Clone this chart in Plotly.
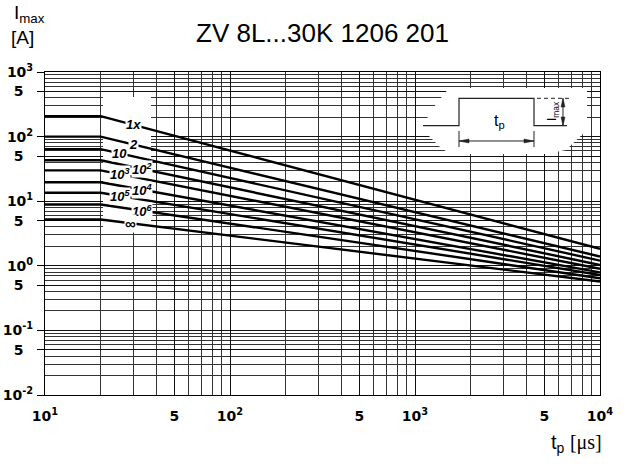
import numpy as np
import plotly.graph_objects as go

# ---------------- data ----------------
t_points = [10, 20, 10000]                      # pulse width t_p [us] : flat part to 20 us, then falling
curve_labels = ["1x", "2", "10", "10<sup>2</sup>", "10<sup>3</sup>", "10<sup>4</sup>",
                "10<sup>5</sup>", "10<sup>6</sup>", "∞"]
i_flat = [207, 100, 64, 43, 30, 19.6, 13.5, 8.9, 5.2]      # I_max [A] for t_p <= 20 us
i_end = [1.83, 1.39, 1.20, 1.03, 0.90, 0.79, 0.72, 0.64, 0.57]  # I_max [A] at t_p = 10^4 us

x_tickvals = [10, 50, 100, 500, 1000, 5000, 10000]
x_ticktext = ["10<sup>1</sup>", "5", "10<sup>2</sup>", "5", "10<sup>3</sup>", "5", "10<sup>4</sup>"]
y_tickvals = [0.01, 0.05, 0.1, 0.5, 1, 5, 10, 50, 100, 500, 1000]
y_ticktext = ["10<sup>-2</sup>", "5", "10<sup>-1</sup>", "5", "10<sup>0</sup>", "5",
              "10<sup>1</sup>", "5", "10<sup>2</sup>", "5", "10<sup>3</sup>"]

# ---------------- layout constants ----------------
W, H = 633, 464
PL, PT, PR, PB = 45, 72, 600, 395        # plot area edges in page pixels
L, T, R, B = PL, PT, W - PR, H - PB
PW, PH = PR - PL, PB - PT
X_RANGE, Y_RANGE = (1, 4), (-2, 3)
LABEL_T = [30, 30, 25.4, 33.4, 25.4, 33.4, 25.4, 33.4, 29]   # where curve labels sit (t_p)


def px(x):
    return (x - PL) / PW


def py(y):
    return (PB - y) / PH


def dx(x):  # page pixel -> data (log axis)
    return 10 ** (X_RANGE[0] + px(x) * (X_RANGE[1] - X_RANGE[0]))


def dy(y):
    return 10 ** (Y_RANGE[0] + py(y) * (Y_RANGE[1] - Y_RANGE[0]))


def path(pts, close=False):
    s = "M " + " L ".join(f"{px(a):.5f},{py(b):.5f}" for a, b in pts)
    return s + (" Z" if close else "")


x_minor = [m * 10 ** k for k in range(1, 4) for m in range(2, 10)]
y_minor = [m * 10.0 ** k for k in range(-2, 3) for m in range(2, 10)]
# "5" labels sit under the "10" of the decade labels, as in the original
y_ticktext_padded = [t if t != "5" else "5&nbsp;&nbsp;" for t in y_ticktext]

fig = go.Figure()

# white masks (drawn above the grid, below the curves)
masks = [
    [(103, 97), (151, 97), (151, 232), (103, 232)],
    [(448, 88), (587, 88), (587, 130), (566, 150), (545, 154), (450, 154),
     (440, 147), (421, 128), (436, 104), (446, 92)],
]
for m in masks:
    pts = m + [m[0]]
    fig.add_trace(go.Scatter(x=[dx(a) for a, b in pts], y=[dy(b) for a, b in pts],
                             mode="lines", fill="toself", fillcolor="white",
                             line=dict(width=0, color="white"), hoverinfo="skip"))

for name, s, e in zip(curve_labels, i_flat, i_end):
    fig.add_trace(go.Scatter(x=t_points, y=[s, s, e], mode="lines", name=name,
                             line=dict(color="black", width=2.4), hoverinfo="skip"))

annotations = []
for name, s, e, lt in zip(curve_labels, i_flat, i_end, LABEL_T):
    lx = np.log10(lt)
    ly = np.interp(lx, [np.log10(t_points[1]), np.log10(t_points[2])], [np.log10(s), np.log10(e)])
    annotations.append(dict(x=lx, y=ly, xref="x", yref="y", text=name, showarrow=False,
                            font=dict(family="Liberation Sans", size=13 if name != "∞" else 15,
                                      color="black", style="italic", weight="bold"),
                            bgcolor="white", borderpad=0))

# axis titles and heading
annotations += [
    dict(x=px(12), y=py(14), xref="paper", yref="paper", xanchor="left", yanchor="middle",
         text="I<sub>max</sub>", showarrow=False, font=dict(family="Liberation Sans", size=19, color="black")),
    dict(x=px(9), y=py(37), xref="paper", yref="paper", xanchor="left", yanchor="middle",
         text="[A]", showarrow=False, font=dict(family="Liberation Sans", size=19, color="black")),
    dict(x=px(322), y=py(33), xref="paper", yref="paper", xanchor="center", yanchor="middle",
         text="ZV 8L...30K 1206 201", showarrow=False,
         font=dict(family="Liberation Sans", size=26, color="black")),
    dict(x=px(604), y=py(443), xref="paper", yref="paper", xanchor="right", yanchor="middle",
         text="t<sub>p</sub> <span style='font-family:Liberation Serif'>[μs]</span>", showarrow=False,
         font=dict(family="Liberation Sans", size=20, color="black")),
    # inset labels
    dict(x=px(499), y=py(121), xref="paper", yref="paper", xanchor="center", yanchor="middle",
         text="t<sub>p</sub>", showarrow=False, font=dict(family="Liberation Sans", size=16, color="black")),
    dict(x=px(553), y=py(111), xref="paper", yref="paper", xanchor="center", yanchor="middle",
         text="I<sub>max</sub>", textangle=-90, showarrow=False,
         font=dict(family="Liberation Sans", size=12, color="black")),
]

ln = dict(color="#222", width=1)
shapes = [
    dict(type="path", xref="paper", yref="paper",
         path=path([(423, 125.7), (459, 125.7), (459, 98.3), (534, 98.3), (534, 125.7), (567, 125.7)]),
         line=dict(color="#222", width=1.2)),
    dict(type="path", xref="paper", yref="paper", path=path([(459, 141), (534, 141)]), line=ln),
    dict(type="path", xref="paper", yref="paper", path=path([(459, 131), (459, 147)]), line=ln),
    dict(type="path", xref="paper", yref="paper", path=path([(534, 131), (534, 147)]), line=ln),
    dict(type="path", xref="paper", yref="paper", path=path([(459, 141), (469, 139), (469, 143)], close=True),
         fillcolor="#222", line=dict(color="#222", width=0.5)),
    dict(type="path", xref="paper", yref="paper", path=path([(534, 141), (524, 139), (524, 143)], close=True),
         fillcolor="#222", line=dict(color="#222", width=0.5)),
    dict(type="path", xref="paper", yref="paper", path=path([(563, 98.3), (563, 125.7)]), line=ln),
    dict(type="path", xref="paper", yref="paper", path=path([(563, 98.3), (561, 107), (565, 107)], close=True),
         fillcolor="#222", line=dict(color="#222", width=0.5)),
    dict(type="path", xref="paper", yref="paper", path=path([(563, 125.7), (561, 117), (565, 117)], close=True),
         fillcolor="#222", line=dict(color="#222", width=0.5)),
    dict(type="path", xref="paper", yref="paper", path=path([(537, 98.3), (569, 98.3)]),
         line=dict(color="#222", width=1, dash="4px,3px")),
]

tickfont = dict(family="DejaVu Sans", size=14, color="black", weight="bold")
fig.update_layout(
    width=W, height=H, margin=dict(l=L, r=R, t=T, b=B, autoexpand=False),
    paper_bgcolor="white", plot_bgcolor="white", showlegend=False,
    annotations=annotations, shapes=shapes,
    xaxis=dict(type="log", range=list(X_RANGE), tickvals=x_tickvals, ticktext=x_ticktext,
               ticks="", ticklabelstandoff=8, tickfont=tickfont, automargin=False,
               showgrid=True, gridcolor="#111", gridwidth=1,
               showline=True, linecolor="black", linewidth=1, mirror=True,
               minor=dict(tickvals=x_minor, showgrid=True, gridcolor="#333", gridwidth=1, ticks=""),
               zeroline=False, fixedrange=True),
    yaxis=dict(type="log", range=list(Y_RANGE), tickvals=y_tickvals, ticktext=y_ticktext_padded,
               ticks="outside", ticklen=7, tickcolor="black", tickwidth=1, tickfont=tickfont,
               ticklabelstandoff=1, automargin=False,
               showgrid=True, gridcolor="#111", gridwidth=1,
               showline=True, linecolor="black", linewidth=1, mirror=True,
               minor=dict(tickvals=y_minor, showgrid=True, gridcolor="#333", gridwidth=1, ticks=""),
               zeroline=False, fixedrange=True),
)

fig.write_html("out.html", config={"displayModeBar": False},
               post_script="document.body.style.margin='0';")
